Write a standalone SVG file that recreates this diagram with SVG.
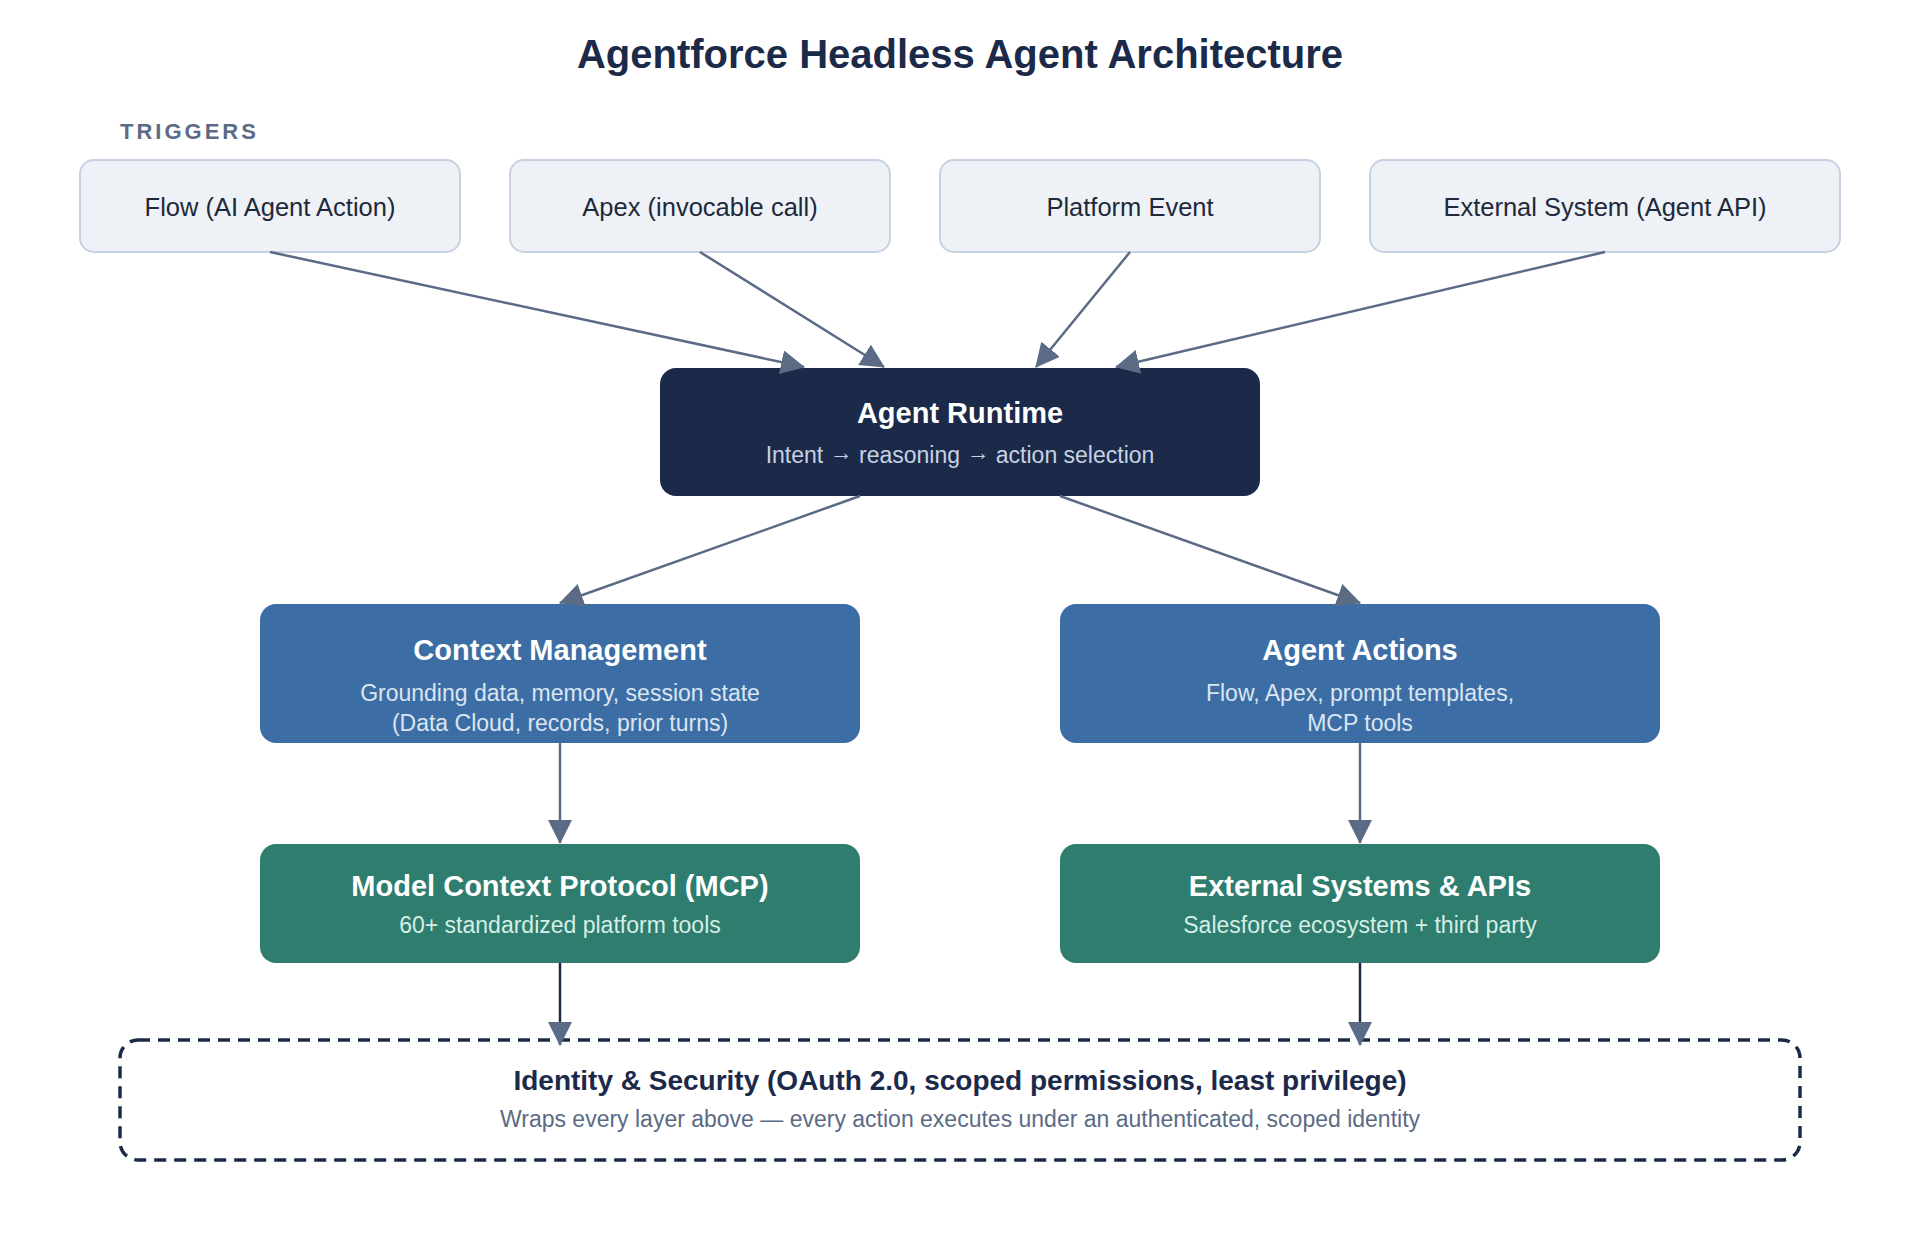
<svg xmlns="http://www.w3.org/2000/svg" width="1920" height="1240" viewBox="0 0 1920 1240">
<style>
text{font-family:"Liberation Sans",Arial,Helvetica,sans-serif;text-anchor:middle}
.title{font-size:40px;font-weight:bold;fill:#1c2a4a}
.sect{font-size:22px;font-weight:bold;fill:#5b6b85;letter-spacing:3px;text-anchor:start}
.trig rect{fill:#eef2f7;stroke:#c6d1e1;stroke-width:2}
.trig text{font-size:25.5px;fill:#1e293b}
.nt{font-size:29px;font-weight:bold;fill:#ffffff}
.ns{font-size:23px}
.navy{fill:#1c2a4a}
.blue{fill:#3c6ea5}
.green{fill:#2e7d6e}
.sub-navy{fill:#c7d1e3}
.sub-blue{fill:#dbe5f2}
.sub-green{fill:#d5eee6}
.conn line{stroke:#5b6b85;stroke-width:2.5;fill:none}
.conn line.dark{stroke:#1c2a4a}
</style>
<defs>
<marker id="arr" markerUnits="userSpaceOnUse" markerWidth="24" markerHeight="24" viewBox="0 0 24 24" refX="23" refY="12" orient="auto">
<path d="M0,0 L24,12 L0,24 z" fill="#5b6b85"/>
</marker>
</defs>
<rect width="1920" height="1240" fill="#ffffff"/>
<text class="title" x="960" y="68">Agentforce Headless Agent Architecture</text>
<text class="sect" x="120" y="139">TRIGGERS</text>

<g id="trigger-flow" class="trig"><rect x="80" y="160" width="380" height="92" rx="14"/><text x="270" y="216">Flow (AI Agent Action)</text></g>
<g id="trigger-apex" class="trig"><rect x="510" y="160" width="380" height="92" rx="14"/><text x="700" y="216">Apex (invocable call)</text></g>
<g id="trigger-platform" class="trig"><rect x="940" y="160" width="380" height="92" rx="14"/><text x="1130" y="216">Platform Event</text></g>
<g id="trigger-external" class="trig"><rect x="1370" y="160" width="470" height="92" rx="14"/><text x="1605" y="216">External System (Agent API)</text></g>

<g id="agent-runtime"><rect class="navy" x="660" y="368" width="600" height="128" rx="16"/>
<text class="nt" x="960" y="423">Agent Runtime</text>
<text class="ns sub-navy" x="960" y="463">Intent <tspan dy="-3">→</tspan><tspan dy="3"> reasoning </tspan><tspan dy="-3">→</tspan><tspan dy="3"> action selection</tspan></text></g>

<g id="context-management"><rect class="blue" x="260" y="604" width="600" height="139" rx="16"/>
<text class="nt" x="560" y="660">Context Management</text>
<text class="ns sub-blue" x="560" y="701">Grounding data, memory, session state</text>
<text class="ns sub-blue" x="560" y="731">(Data Cloud, records, prior turns)</text></g>

<g id="agent-actions"><rect class="blue" x="1060" y="604" width="600" height="139" rx="16"/>
<text class="nt" x="1360" y="660">Agent Actions</text>
<text class="ns sub-blue" x="1360" y="701">Flow, Apex, prompt templates,</text>
<text class="ns sub-blue" x="1360" y="731">MCP tools</text></g>

<g id="mcp"><rect class="green" x="260" y="844" width="600" height="119" rx="16"/>
<text class="nt" x="560" y="896">Model Context Protocol (MCP)</text>
<text class="ns sub-green" x="560" y="933">60+ standardized platform tools</text></g>

<g id="external-systems"><rect class="green" x="1060" y="844" width="600" height="119" rx="16"/>
<text class="nt" x="1360" y="896">External Systems &amp; APIs</text>
<text class="ns sub-green" x="1360" y="933">Salesforce ecosystem + third party</text></g>

<g id="identity-security"><rect x="120" y="1040" width="1680" height="120" rx="18" fill="none" stroke="#1c2a4a" stroke-width="3.5" stroke-dasharray="12 8"/>
<text x="960" y="1090" style="font-size:28px;font-weight:bold;fill:#1c2a4a">Identity &amp; Security (OAuth 2.0, scoped permissions, least privilege)</text>
<text x="960" y="1127" style="font-size:23px;fill:#5b6b85">Wraps every layer above — every action executes under an authenticated, scoped identity</text></g>

<g id="connectors" class="conn">
<line x1="270" y1="252" x2="804" y2="367" marker-end="url(#arr)"/>
<line x1="700" y1="252" x2="884" y2="367" marker-end="url(#arr)"/>
<line x1="1130" y1="252" x2="1036" y2="367" marker-end="url(#arr)"/>
<line x1="1605" y1="252" x2="1116" y2="367" marker-end="url(#arr)"/>
<line x1="860" y1="496" x2="560" y2="603" marker-end="url(#arr)"/>
<line x1="1060" y1="496" x2="1360" y2="603" marker-end="url(#arr)"/>
<line x1="560" y1="743" x2="560" y2="843" marker-end="url(#arr)"/>
<line x1="1360" y1="743" x2="1360" y2="843" marker-end="url(#arr)"/>
<line class="dark" x1="560" y1="963" x2="560" y2="1045" marker-end="url(#arr)"/>
<line class="dark" x1="1360" y1="963" x2="1360" y2="1045" marker-end="url(#arr)"/>
</g>
</svg>
